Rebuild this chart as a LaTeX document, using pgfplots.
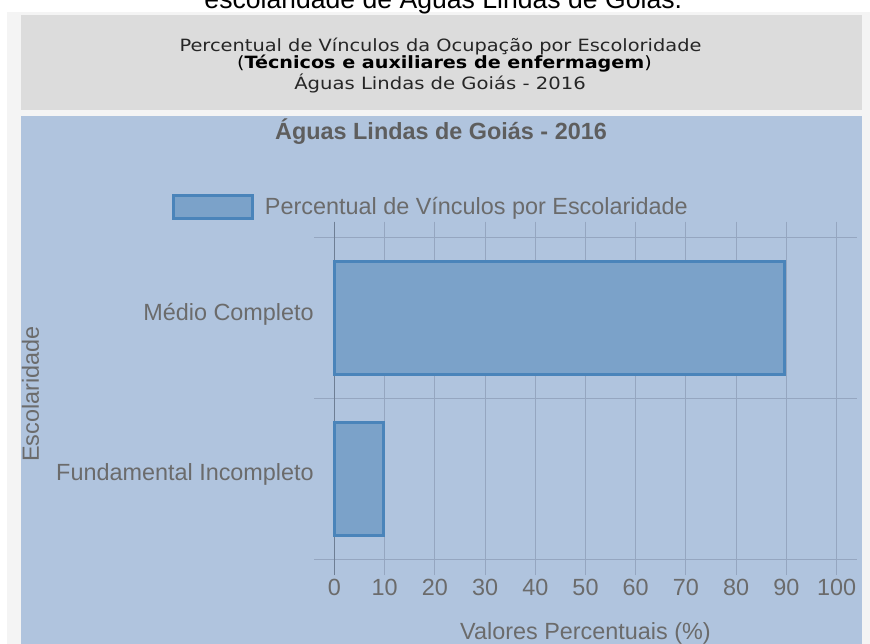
\documentclass[border=0pt]{standalone}
\usepackage{fontspec}
\setmainfont{Liberation Sans}
\newfontfamily\hdrfont{DejaVu Sans}
\usepackage{pgfplots}
\pgfplotsset{compat=1.18}
\definecolor{bgblue}{HTML}{B0C4DE}
\definecolor{barfill}{HTML}{7BA2C9}
\definecolor{barline}{HTML}{4A84BA}
\definecolor{gridc}{HTML}{95A6C0}
\definecolor{zeroc}{HTML}{6E7E94}
\definecolor{txtgray}{HTML}{6B6B6B}
\definecolor{ttlgray}{HTML}{5E5E5E}
\definecolor{hdrgray}{HTML}{DCDCDC}
\definecolor{framec}{HTML}{F4F4F4}
\definecolor{hdrtext}{HTML}{262626}
\newcommand\chartfont{\fontsize{11.7}{14}\selectfont}
\begin{document}
\begin{tikzpicture}
\begin{scope}[x=0.5pt,y=-0.5pt]
\path[use as bounding box] (0,0) rectangle (870,642);
\fill[white] (0,0) rectangle (870,642);
\fill[framec] (7.3,12) rectangle (880,660);
\fill[hdrgray] (20.7,15.3) rectangle (861.7,110);
\fill[bgblue] (20.7,116) rectangle (861.7,660);
\node[anchor=base, inner sep=0pt, font=\fontsize{13.3}{16}\selectfont] at (443.3,9) {escolaridade de Águas Lindas de Goiás.};
\node[anchor=base, inner sep=0pt, font=\hdrfont\fontsize{8.45}{10}\selectfont, text=hdrtext] at (440.5,51.7) {\scalebox{1.147}[1]{Percentual de Vínculos da Ocupação por Escoloridade}};
\node[anchor=base, inner sep=0pt, font=\hdrfont\fontsize{8.45}{10}\selectfont, text=black] at (444.5,68.3) {\scalebox{1.134}[1]{(\textbf{Técnicos e auxiliares de enfermagem})}};
\node[anchor=base, inner sep=0pt, font=\hdrfont\fontsize{8.45}{10}\selectfont, text=hdrtext] at (440,89.3) {\scalebox{1.16}[1]{Águas Lindas de Goiás - 2016}};
\end{scope}
\begin{axis}[
  at={(167.15pt,-279.5pt)}, anchor=south west,
  scale only axis, width=251.2pt, height=160.65pt,
  xbar, bar width=56.5pt,
  xmin=0, xmax=100, ymin=-0.5, ymax=1.5,
  xtick={0,10,...,100},
  ytick={0,1}, yticklabels={Fundamental Incompleto, Médio Completo},
  minor ytick={-0.5,0.5,1.5},
  xmajorgrids, yminorgrids,
  grid style={draw=gridc, line width=0.5pt},
  minor grid style={draw=gridc, line width=0.5pt},
  axis line style={draw=none},
  tick align=outside,
  /pgf/number format/assume math mode=true,
  major x tick style={draw=gridc, line width=0.5pt, /pgfplots/major tick length=8pt},
  major y tick style={draw=none, /pgfplots/major tick length=0pt},
  minor y tick style={draw=gridc, line width=0.5pt, /pgfplots/minor tick length=10pt},
  extra x ticks={0}, extra x tick labels={},
  extra x tick style={grid style={draw=zeroc, line width=0.5pt}, major x tick style={draw=zeroc, line width=0.5pt}},
  tick label style={font=\chartfont, text=txtgray},
  xticklabel style={inner sep=0pt, anchor=north, yshift=-5.5pt},
  yticklabel style={inner sep=0pt, anchor=east, xshift=-5.8pt, yshift=2pt},
  xlabel={Valores Percentuais (\%)},
  xlabel style={font=\chartfont, text=txtgray, at={(0.5,-0.249)}, anchor=base, inner sep=0pt},
  ylabel={Escolaridade},
  ylabel style={font=\chartfont, text=txtgray, at={(-0.5878,0.5135)}, anchor=base, inner sep=0pt},
  title={Águas Lindas de Goiás - 2016},
  title style={font=\chartfont\bfseries, text=ttlgray, at={(0.2124,1.2677)}, anchor=base, inner sep=0pt},
  legend style={at={(-0.3225,1.0949)}, anchor=west, draw=none, fill=none, inner sep=0pt, outer sep=0pt, font=\chartfont, text=txtgray, /tikz/every odd column/.append style={column sep=3.35pt}},
  legend image code/.code={\draw[#1] (0pt,-5.75pt) rectangle (39.5pt,5.75pt);},
  clip=false,
]
\addplot[fill=barfill, draw=barline, line width=1.5pt] coordinates {(9.7,0) (89.6,1)};
\addlegendentry{Percentual de Vínculos por Escolaridade}
\end{axis}
\end{tikzpicture}
\end{document}
